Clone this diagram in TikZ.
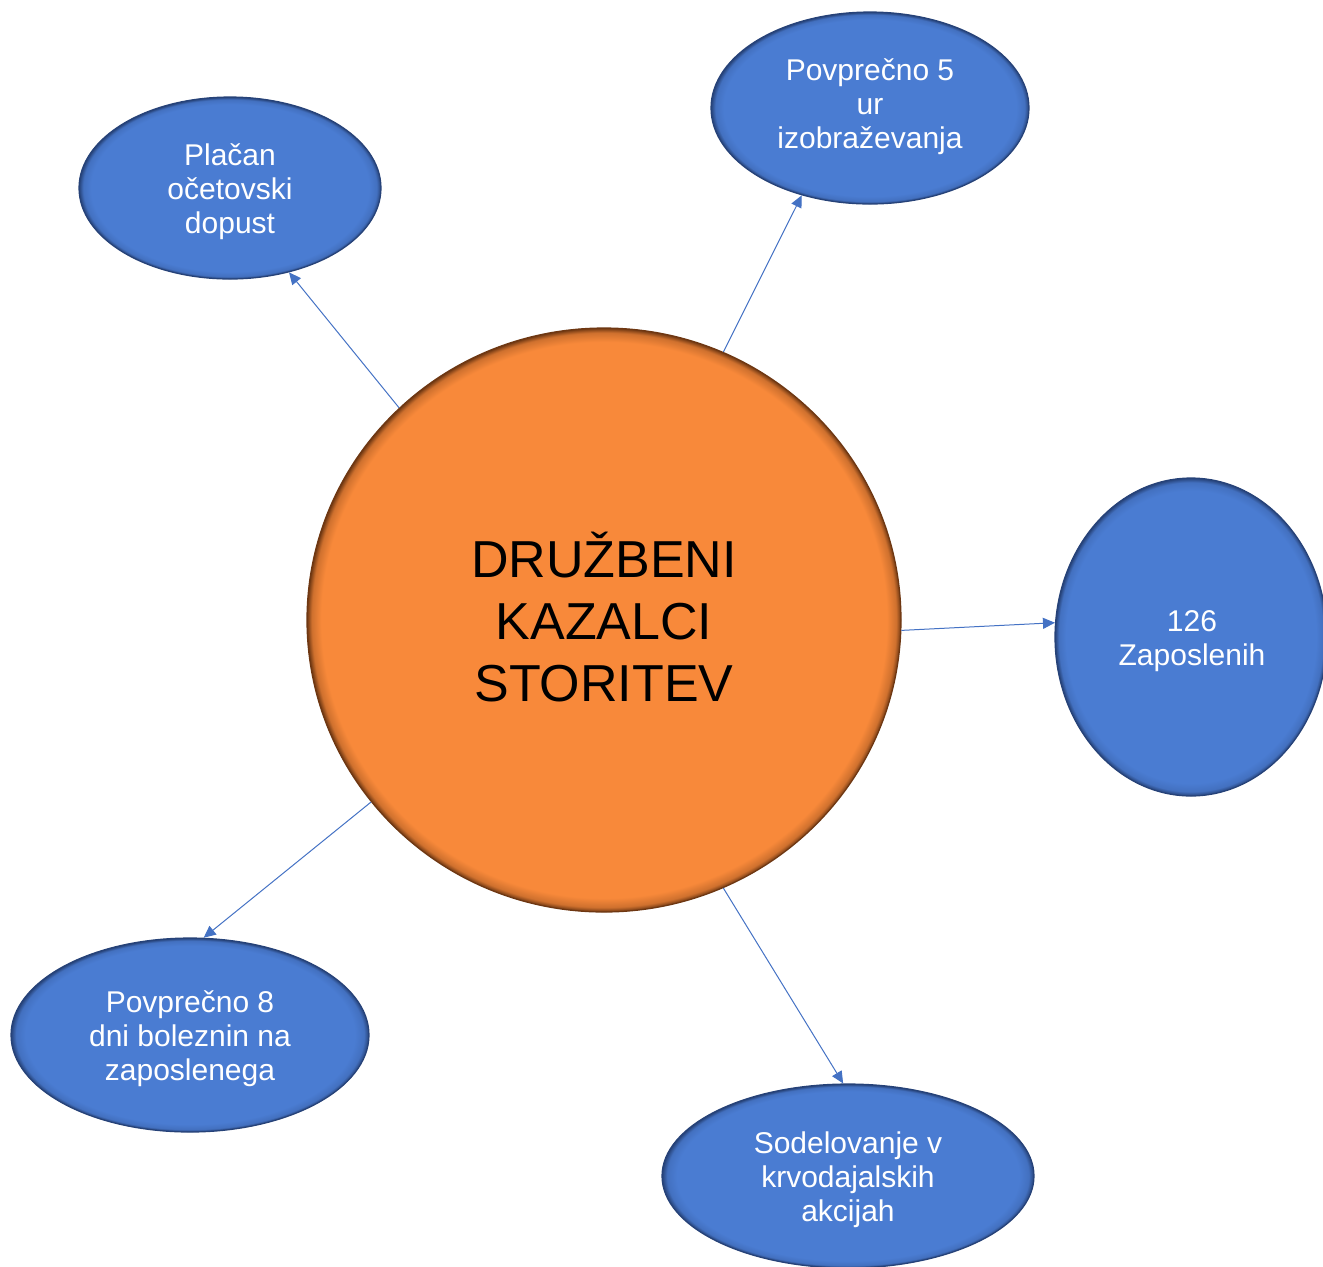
\documentclass[tikz,border=0pt]{standalone}
\usepackage{fontspec}
\setmainfont{Liberation Sans}
\usetikzlibrary{arrows.meta,shapes.geometric}
\definecolor{bfill}{RGB}{74,124,210}
\definecolor{bedge}{RGB}{38,66,120}
\definecolor{ofill}{RGB}{248,137,58}
\definecolor{oedge}{RGB}{110,55,18}
\definecolor{lineblue}{RGB}{68,114,196}
\pgfdeclareradialshading{bevelblue}{\pgfpoint{0bp}{0bp}}{color(0bp)=(bfill); color(23bp)=(bfill); color(24.3bp)=(bfill!80!bedge); color(25bp)=(bedge); color(50bp)=(bedge)}
\pgfdeclareradialshading{bevelorange}{\pgfpoint{0bp}{0bp}}{color(0bp)=(ofill); color(23.8bp)=(ofill); color(24.6bp)=(ofill!70!oedge); color(25bp)=(oedge); color(50bp)=(oedge)}
\tikzset{
  blueell/.style={ellipse, shading=bevelblue, draw=bedge, line width=0.6pt, inner sep=0pt},
  smalltext/.style={text=white, font=\fontsize{15}{17}\selectfont, align=center},
  centerell/.style={ellipse, shading=bevelorange, draw=oedge, line width=0.6pt, inner sep=0pt},
  bigtext/.style={font=\fontsize{26}{31}\selectfont, align=center, text=black},
  conn/.style={draw=lineblue, line width=0.5pt, -{Triangle[length=6pt,width=5.5pt]}}
}
\begin{document}
\begin{tikzpicture}[x=0.5pt,y=-0.5pt]
\useasboundingbox (0,0) rectangle (1323,1266);
\node[centerell, minimum width=297pt, minimum height=292pt] (c) at (604,620) {};
\node[bigtext] (ct) at (604,617) {DRUŽBENI\\KAZALCI\\STORITEV};
\node[blueell, minimum width=151pt, minimum height=91pt] (tl) at (230,188) {};
\node[smalltext] (tlt) at (230,192) {Plačan\\očetovski\\dopust};
\node[blueell, minimum width=159pt, minimum height=96pt] (tr) at (870,108) {};
\node[smalltext] (trt) at (870,107) {Povprečno 5\\ur\\izobraževanja};
\node[blueell, minimum width=136pt, minimum height=159pt] (r) at (1191,637) {};
\node[smalltext] (rt) at (1192,641) {126\\Zaposlenih};
\node[blueell, minimum width=179pt, minimum height=97pt] (bl) at (190,1035) {};
\node[smalltext] (blt) at (190,1039) {Povprečno 8\\dni boleznin na\\zaposlenega};
\node[blueell, minimum width=186pt, minimum height=92pt] (br) at (848,1176) {};
\node[smalltext] (brt) at (848,1180) {Sodelovanje v\\krvodajalskih\\akcijah};
\draw[conn] (c.134) -- (tl.-55);
\draw[conn] (c.66.4) -- (tr.-128.7);
\draw[conn] (c.-2.3) -- (r.174.5);
\draw[conn] (c.-142.8) -- (bl.82.5);
\draw[conn] (c.-66.2) -- (br.93.7);
\end{tikzpicture}
\end{document}
